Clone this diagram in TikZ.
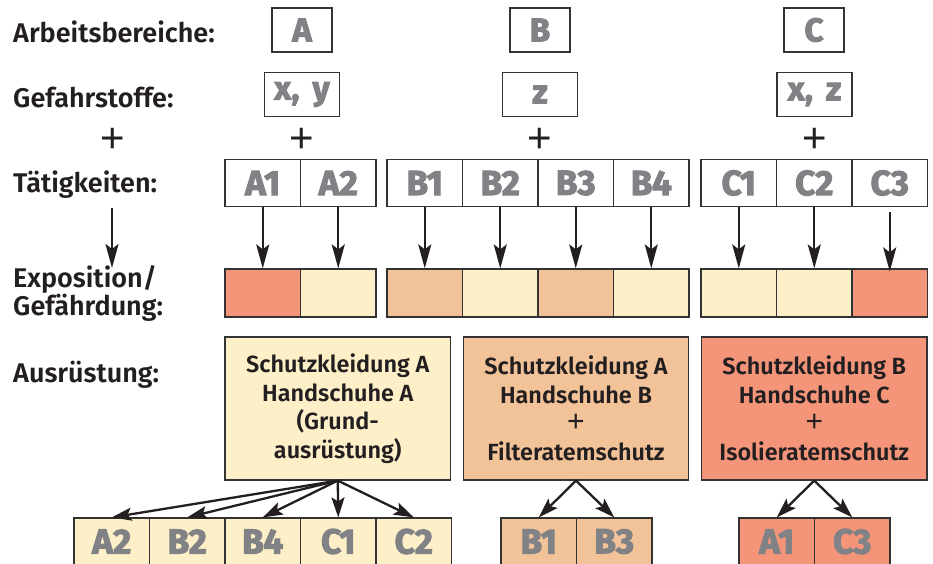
\documentclass[tikz,border=0pt]{standalone}
\usepackage{fontspec}
\setmainfont{Fira Sans}[BoldFont={Fira Sans SemiBold}]
\newfontfamily\grayf[FakeStretch=1.0,FakeBold=3]{Fira Sans}
\newfontfamily\plusf{Liberation Sans}
\usetikzlibrary{arrows.meta}
\definecolor{cLight}{HTML}{FDF0C8}
\definecolor{cTan}{HTML}{F2C298}
\definecolor{cRed}{HTML}{F4957A}
\definecolor{cGray}{HTML}{808285}
\definecolor{cLine}{HTML}{333333}
\definecolor{cText}{HTML}{231F20}
\begin{document}
\begin{tikzpicture}[x=1pt,y=-1pt,
  lbl/.style={anchor=base west, inner sep=0, font=\bfseries\fontsize{27}{27}\selectfont, text=cText},
  topbox/.style={draw=cLine, line width=1.2pt, minimum height=44pt, inner sep=0,
    font=\grayf\bfseries\fontsize{33}{33}\selectfont, text=cGray},
  cell/.style={draw=cLine, line width=1.2pt, minimum width=75.5pt, minimum height=47pt, inner sep=0,
    font=\grayf\bfseries\fontsize{35}{35}\selectfont, text=cGray},
  expo/.style={draw=cLine, line width=1.2pt, minimum width=75.5pt, minimum height=48pt, inner sep=0},
  bigbox/.style={draw=cLine, line width=1.2pt, minimum width=225.5pt, minimum height=143pt, inner sep=0,
    align=center, font=\bfseries\fontsize{23.4}{28.5}\selectfont, text=cText},
  plus/.style={inner sep=0, font=\plusf\fontsize{42}{42}\selectfont, text=cText},
  arr/.style={draw=cText, line width=2.3pt, -{Stealth[length=24pt,width=13pt,inset=5pt]}},
  arrs/.style={draw=cText, line width=2.3pt, -{Stealth[length=20pt,width=13pt,inset=4pt]}}
]
\useasboundingbox (0,0) rectangle (933,564);
\clip (0,0) rectangle (933,564);

% labels
\node[lbl] (lA) at (13,43) {Arbeitsbereiche:};
\node[lbl] (lG) at (13,108) {Gefahrstoffe:};
\node[lbl] (lT) at (13,193) {Tätigkeiten:};
\node[lbl] (lE1) at (13,287) {Exposition/};
\node[lbl] (lE2) at (13,315) {Gefährdung:};
\node[lbl] (lR) at (13,382) {Ausrüstung:};

% top boxes
\node[topbox, minimum width=60pt] (A) at (302,30) {A};
\node[topbox, minimum width=75pt] (xy) at (302,94.5) {x,\hspace{0.4em}y};
\node[topbox, minimum width=60pt] (B) at (540,30) {B};
\node[topbox, minimum width=75pt] (z) at (540,94.5) {z};
\node[topbox, minimum width=60pt] (C) at (814,30) {C};
\node[topbox, minimum width=75pt] (xz) at (814.5,94.5) {x,\hspace{0.4em}z};

% plus signs
\node[plus] (p0) at (113,140) {+};
\node[plus] (p1) at (302,140) {+};
\node[plus] (p2) at (540,140) {+};
\node[plus] (p3) at (815,140) {+};

% Taetigkeiten
\node[cell] (tA1) at (262.75,183) {A1};
\node[cell] (tA2) at (338.25,183) {A2};
\node[cell] (tB1) at (424.75,183) {B1};
\node[cell] (tB2) at (500.25,183) {B2};
\node[cell] (tB3) at (575.75,183) {B3};
\node[cell] (tB4) at (651.25,183) {B4};
\node[cell] (tC1) at (738.75,183) {C1};
\node[cell] (tC2) at (814.25,183) {C2};
\node[cell] (tC3) at (889.75,183) {C3};

% Exposition
\node[expo, fill=cRed]   (eA1) at (262.75,293) {};
\node[expo, fill=cLight] (eA2) at (338.25,293) {};
\node[expo, fill=cTan]   (eB1) at (424.75,293) {};
\node[expo, fill=cLight] (eB2) at (500.25,293) {};
\node[expo, fill=cTan]   (eB3) at (575.75,293) {};
\node[expo, fill=cLight] (eB4) at (651.25,293) {};
\node[expo, fill=cLight] (eC1) at (738.75,293) {};
\node[expo, fill=cLight] (eC2) at (814.25,293) {};
\node[expo, fill=cRed]   (eC3) at (889.75,293) {};

% arrows Taetigkeiten -> Exposition
\coordinate (l1) at (112,208);
\coordinate (l2) at (112,268);
\draw[arr] (l1) -- (l2);
\foreach \n in {A1,A2,B1,B2,B3,B4,C1,C2}{
  \draw[arr] (t\n.south) -- (e\n.north);
}
\draw[arr] ([yshift=-5pt]tC3.south) -- ([yshift=-3pt]eC3.north);

% Ausruestung
\node[bigbox, fill=cLight] (r1) at (337.75,408.5) {Schutzkleidung A\\Handschuhe A\\(Grund-\\ausrüstung)};
\node[bigbox, fill=cTan] (r2) at (576,408.5) {Schutzkleidung A\\Handschuhe B\\{\plusf\mdseries\fontsize{30}{22}\selectfont +}\\Filteratemschutz};
\node[bigbox, fill=cRed] (r3) at (814.25,408.5) {Schutzkleidung B\\Handschuhe C\\{\plusf\mdseries\fontsize{30}{22}\selectfont +}\\Isolieratemschutz};

% bottom row
\node[cell, fill=cLight] (bA2) at (111.75,541.5) {A2};
\node[cell, fill=cLight] (bB2) at (187.25,541.5) {B2};
\node[cell, fill=cLight] (bB4) at (262.75,541.5) {B4};
\node[cell, fill=cLight] (bC1) at (338.25,541.5) {C1};
\node[cell, fill=cLight] (bC2) at (413.75,541.5) {C2};
\node[cell, fill=cTan] (bB1) at (538.75,541.5) {B1};
\node[cell, fill=cTan] (bB3) at (614.25,541.5) {B3};
\node[cell, fill=cRed] (bA1) at (776.75,541.5) {A1};
\node[cell, fill=cRed] (bC3) at (852.25,541.5) {C3};

\foreach \n in {A2,B2,B4,C1,C2}{
  \draw[arrs] (r1.south) -- (b\n.north);
}
\foreach \n in {B1,B3}{
  \draw[arrs] (r2.south) -- (b\n.north);
}
\foreach \n in {A1,C3}{
  \draw[arrs] (r3.south) -- (b\n.north);
}
\end{tikzpicture}
\end{document}
